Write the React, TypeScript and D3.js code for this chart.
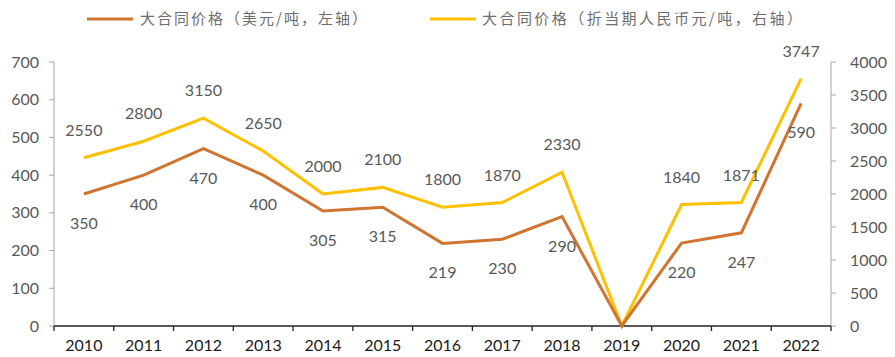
import React from "react";
import * as d3 from "d3";

const years = ["2010","2011","2012","2013","2014","2015","2016","2017","2018","2019","2020","2021","2022"];
const usdPrice = [350,400,470,400,305,315,219,230,290,0,220,247,590];
const rmbPrice = [2550,2800,3150,2650,2000,2100,1800,1870,2330,0,1840,1871,3747];
const leftTicks = [0,100,200,300,400,500,600,700];
const rightTicks = [0,500,1000,1500,2000,2500,3000,3500,4000];
const legendUsd = "大合同价格（美元/吨，左轴）";
const legendRmb = "大合同价格（折当期人民币元/吨，右轴）";

const W = 895, H = 357;
const left = 54, right = 831, top = 62, bottom = 326;
const orange = "#D07530";
const yellow = "#FFC000";
const gray = "#595959";
const font = "Lato, 'Noto Sans', sans-serif";
const cjk = "'Noto Sans CJK SC', sans-serif";

export default function App() {
  const x = d3.scaleBand<string>().domain(years).range([left, right]).padding(0);
  const yL = d3.scaleLinear().domain([0, 700]).range([bottom, top]);
  const yR = d3.scaleLinear().domain([0, 4000]).range([bottom, top]);
  const cx = (y: string) => (x(y) as number) + x.bandwidth() / 2;
  const lineL = d3.line<number>().x((_, i) => cx(years[i])).y(d => yL(d));
  const lineR = d3.line<number>().x((_, i) => cx(years[i])).y(d => yR(d));
  const bounds = d3.range(years.length + 1).map(i => left + i * x.bandwidth());

  return (
    <svg width={W} height={H} style={{ position: "absolute", left: 0, top: 0 }}>
      <rect width={W} height={H} fill="#fff" />
      {/* legend */}
      <line x1={87} x2={133} y1={19} y2={19} stroke={orange} strokeWidth={3} />
      <text x={140} y={24} fontSize={15} fill="#6e6e6e" fontFamily={cjk} textLength={227} lengthAdjust="spacing">{legendUsd}</text>
      <line x1={430} x2={476} y1={19} y2={19} stroke={yellow} strokeWidth={3} />
      <text x={482} y={24} fontSize={15} fill="#6e6e6e" fontFamily={cjk} textLength={320} lengthAdjust="spacing">{legendRmb}</text>

      {/* left axis */}
      <line x1={left} x2={left} y1={top} y2={bottom} stroke="#A6A6A6" strokeWidth={1} />
      {leftTicks.map(t => (
        <g key={"l" + t}>
          <line x1={left - 5} x2={left} y1={yL(t)} y2={yL(t)} stroke="#A6A6A6" />
          <text x={left - 15} y={yL(t)} dy="0.35em" textAnchor="end" fontSize={16} fill={gray} fontFamily={font}>{t}</text>
        </g>
      ))}
      {/* right axis */}
      <line x1={right} x2={right} y1={top} y2={bottom} stroke="#A6A6A6" strokeWidth={1} />
      {rightTicks.map(t => (
        <g key={"r" + t}>
          <line x1={right} x2={right + 5} y1={yR(t)} y2={yR(t)} stroke="#A6A6A6" />
          <text x={right + 19} y={yR(t)} dy="0.35em" textAnchor="start" fontSize={16} fill={gray} fontFamily={font}>{t}</text>
        </g>
      ))}
      {/* bottom axis */}
      <line x1={left} x2={right} y1={bottom} y2={bottom} stroke="#222" strokeWidth={1.3} />
      {bounds.map((b, i) => (
        <line key={"b" + i} x1={b} x2={b} y1={bottom} y2={bottom + 5} stroke="#222" strokeWidth={1.3} />
      ))}
      {years.map(y => (
        <text key={"x" + y} x={cx(y)} y={bottom + 25} textAnchor="middle" fontSize={16} fill="#1a1a1a" fontFamily={font}>{y}</text>
      ))}

      {/* lines */}
      <path d={lineR(rmbPrice) || ""} fill="none" stroke={yellow} strokeWidth={3} />
      <path d={lineL(usdPrice) || ""} fill="none" stroke={orange} strokeWidth={3} />

      {/* labels */}
      {rmbPrice.map((v, i) => v === 0 ? null : (
        <text key={"rl" + i} x={cx(years[i])} y={yR(v) - 22} textAnchor="middle" fontSize={16} fill={gray} fontFamily={font}>{v}</text>
      ))}
      {usdPrice.map((v, i) => v === 0 ? null : (
        <text key={"ul" + i} x={cx(years[i])} y={yL(v) + 35} textAnchor="middle" fontSize={16} fill={gray} fontFamily={font}>{v}</text>
      ))}
    </svg>
  );
}
